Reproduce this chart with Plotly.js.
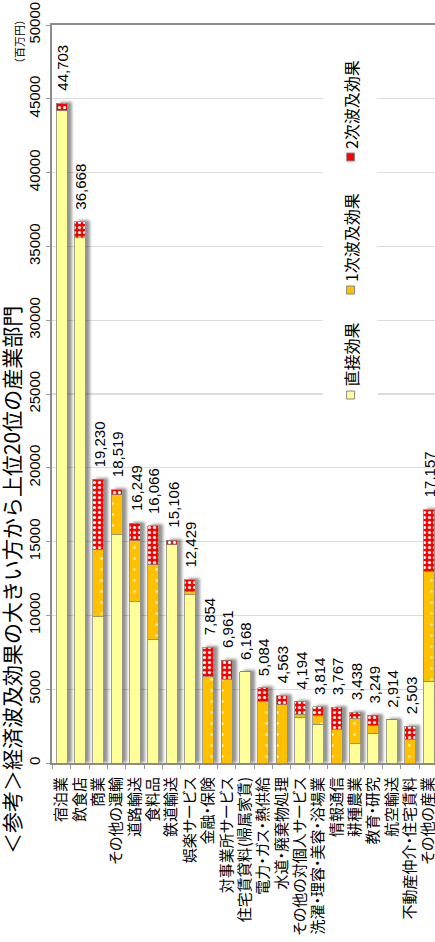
<!DOCTYPE html>
<html lang="ja">
<head>
<meta charset="utf-8">
<script src="https://cdn.plot.ly/plotly-3.0.1.min.js"></script>
<style>
  html, body { margin: 0; padding: 0; background: #fff; overflow: hidden; }
  #chart { width: 460px; height: 942px; }
  /* soft shadow to the right of every bar */
  .barlayer { filter: url(#barShadow); }
  /* proportional punctuation for the category names */
  .xtick text { font-feature-settings: "palt"; }
</style>
</head>
<body>
<svg width="0" height="0" style="position:absolute">
  <defs>
    <filter id="barShadow" x="-10%" y="-10%" width="130%" height="120%">
      <feDropShadow dx="4" dy="-1" stdDeviation="1.8" flood-color="#000" flood-opacity="0.42"/>
    </filter>
  </defs>
</svg>
<div id="chart"></div>
<script>
// 産業部門（経済波及効果の大きい順）
const categories = [
  '宿泊業', '飲食店', '商業', 'その他の運輸', '道路輸送', '食料品', '鉄道輸送',
  '娯楽サービス', '金融・保険', '対事業所サービス', '住宅賃貸料(帰属家賃)',
  '電力・ガス・熱供給', '水道・廃棄物処理', 'その他の対個人サービス',
  '洗濯・理容・美容・浴場業', '情報通信', '耕種農業', '教育・研究', '航空輸送',
  '不動産仲介・住宅賃料', 'その他の産業'
];

// 百万円
const directEffect = [
  44200, 35600, 9900, 15450, 10920, 8370, 14770,
  11410, 0, 0, 6168,
  0, 0, 3080,
  2630, 0, 1290, 2020, 2914,
  0, 5530
];
const firstEffect = [
  0, 0, 4540, 2730, 4150, 5050, 0,
  180, 5830, 5690, 0,
  4170, 3950, 210,
  570, 2290, 1700, 500, 0,
  1610, 7470
];
const secondEffect = [
  503, 1068, 4790, 339, 1179, 2646, 336,
  839, 2024, 1271, 0,
  914, 613, 904,
  614, 1477, 448, 729, 0,
  893, 4157
];
const totalLabels = [
  44703, 36668, 19230, 18519, 16249, 16066, 15106,
  12429, 7854, 6961, 6168,
  5084, 4563, 4194,
  3814, 3767, 3438, 3249, 2914,
  2503, 17157
];

const seriesNames = ['直接効果', '1次波及効果', '2次波及効果'];
const yTickValues = [0, 5000, 10000, 15000, 20000, 25000, 30000, 35000, 40000, 45000, 50000];

const YELLOW = '#FFFF99', ORANGE = '#FFC000', RED = '#FF0000';
const OUTLINE = { color: '#8a8a7a', width: 0.8 };

// plot-area geometry in pixels (used to place decorations)
const L = 52, W = 388.5, T = 25, H = 738;
const px = x => (x - L) / W;
const py = y => (T + H - y) / H;

const traces = [
  {
    type: 'bar', name: seriesNames[0], x: categories, y: directEffect,
    marker: { color: YELLOW, line: OUTLINE }
  },
  {
    type: 'bar', name: seriesNames[1], x: categories, y: firstEffect,
    marker: {
      color: ORANGE, line: OUTLINE,
      pattern: { shape: '.', bgcolor: ORANGE, fgcolor: '#fff6d0', fgopacity: 1, size: 11, solidity: 0.04 }
    }
  },
  {
    type: 'bar', name: seriesNames[2], x: categories, y: secondEffect,
    marker: {
      color: RED, line: OUTLINE,
      pattern: { shape: '.', bgcolor: RED, fgcolor: '#ffffff', fgopacity: 1, size: 5, solidity: 0.3 }
    }
  }
];

const numFont = { family: 'Liberation Sans, Arial, sans-serif', size: 15, color: '#000' };
const jpFont = { family: 'Noto Sans CJK JP, sans-serif', size: 15, color: '#000' };

// value labels on top of each stacked bar
const valueAnnotations = categories.map((c, i) => ({
  x: c, y: totalLabels[i], xref: 'x', yref: 'y',
  text: totalLabels[i].toLocaleString('en-US'),
  showarrow: false, textangle: -90,
  xanchor: 'center', yanchor: 'bottom', yshift: 10, xshift: 1,
  font: numFont
}));

// legend drawn as rotated text with colour swatches
const legendItems = [
  { label: seriesNames[0], color: YELLOW, y: 395 },
  { label: seriesNames[1], color: ORANGE, y: 290 },
  { label: seriesNames[2], color: RED, y: 157 }
];
const legendAnnotations = legendItems.map(it => ({
  xref: 'paper', yref: 'paper', x: px(351), y: py(it.y - 6),
  text: it.label, showarrow: false, textangle: -90,
  xanchor: 'center', yanchor: 'bottom',
  font: { family: 'Noto Sans CJK JP, sans-serif', size: 16, color: '#000' }
}));
const legendShapes = [
  {
    type: 'rect', xref: 'paper', yref: 'paper', layer: 'above',
    x0: px(323), x1: px(378), y0: py(412), y1: py(38),
    fillcolor: '#ffffff', line: { width: 0 }
  }
].concat(legendItems.map(it => ({
  type: 'rect', xref: 'paper', yref: 'paper', layer: 'above',
  x0: px(347), x1: px(355), y0: py(it.y + 4), y1: py(it.y - 4),
  fillcolor: it.color, line: { color: '#888', width: 1 }
})));

const layout = {
  width: 460, height: 942,
  margin: { l: L, r: 460 - L - W, t: T, b: 942 - T - H },
  paper_bgcolor: '#fff', plot_bgcolor: '#fff',
  barmode: 'stack', bargap: 0.4,
  showlegend: false,
  xaxis: {
    type: 'category', tickangle: -90, tickfont: jpFont,
    showline: true, linecolor: '#8c8c8c', linewidth: 2, mirror: true,
    ticks: 'outside', tickson: 'boundaries', ticklen: 4, tickcolor: '#9a9a9a',
    ticklabelstandoff: 6,
    showgrid: false, fixedrange: true
  },
  yaxis: {
    range: [0, 50000], tickvals: yTickValues, tickformat: 'd',
    tickangle: -90, tickfont: numFont,
    showline: true, linecolor: '#8c8c8c', linewidth: 2, mirror: true,
    ticks: 'outside', ticklen: 4, tickcolor: '#9a9a9a',
    gridcolor: '#dcdcdc', gridwidth: 1.2, zeroline: false, fixedrange: true
  },
  shapes: legendShapes,
  annotations: valueAnnotations.concat(legendAnnotations).concat([
    {
      xref: 'paper', yref: 'paper', x: px(11), y: py(580),
      text: '＜参考＞経済波及効果の大きい方から上位20位の産業部門',
      showarrow: false, textangle: -90, xanchor: 'center', yanchor: 'middle',
      font: { family: 'Noto Sans CJK JP, sans-serif', size: 21, color: '#000' }
    },
    {
      xref: 'paper', yref: 'paper', x: px(19), y: py(42),
      text: '（百万円）', showarrow: false, textangle: -90,
      xanchor: 'center', yanchor: 'middle',
      font: { family: 'Noto Sans CJK JP, sans-serif', size: 11, color: '#000' }
    }
  ])
};

Plotly.newPlot('chart', traces, layout, { staticPlot: true, displayModeBar: false });
</script>
</body>
</html>
